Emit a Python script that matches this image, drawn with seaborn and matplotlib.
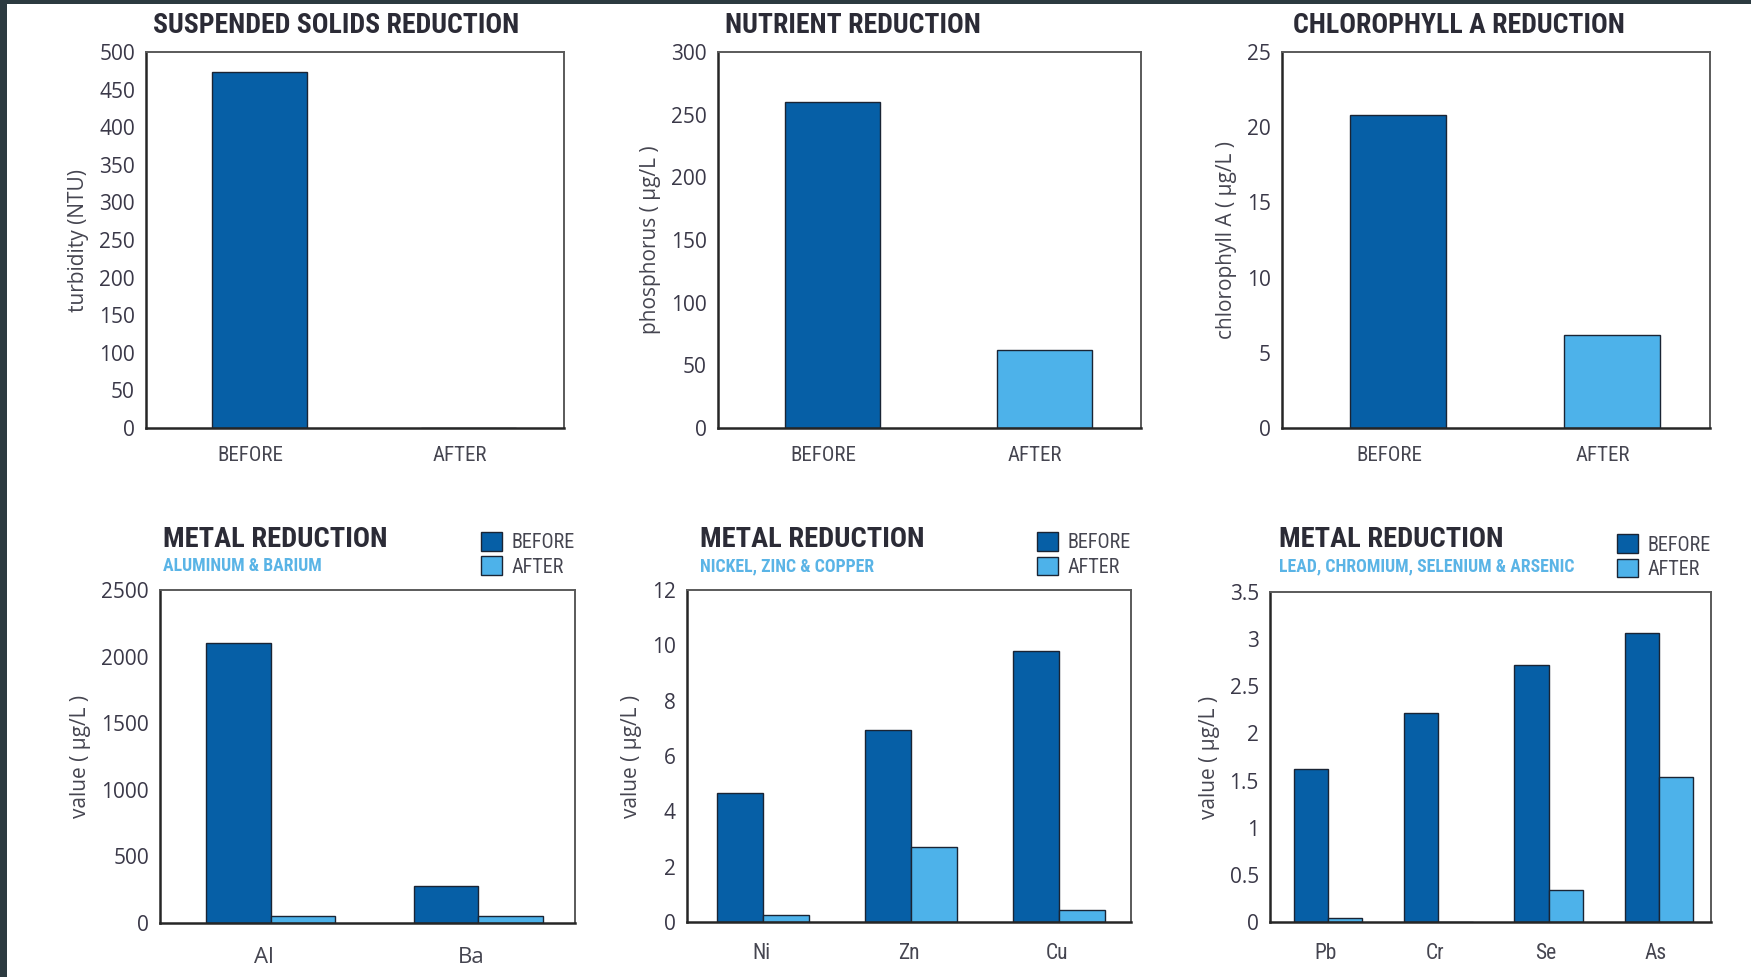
import numpy as np
import pandas as pd
import matplotlib
matplotlib.use("Agg")
import matplotlib.pyplot as plt
from matplotlib import font_manager as fm
from matplotlib.patches import Rectangle
from matplotlib.transforms import ScaledTranslation
import seaborn as sns

# ---- data ----
phases = ["BEFORE", "AFTER"]

turbidity = [473, 0]
phosphorus = [260, 62]
chlorophyll = [20.8, 6.2]

al_ba = ["Al", "Ba"]
al_ba_before = [2100, 280]
al_ba_after = [55, 55]

ni_zn_cu = ["Ni", "Zn", "Cu"]
ni_zn_cu_before = [4.65, 6.95, 9.8]
ni_zn_cu_after = [0.27, 2.72, 0.42]

pb_cr_se_as = ["Pb", "Cr", "Se", "As"]
pb_cr_se_as_before = [1.62, 2.22, 2.73, 3.06]
pb_cr_se_as_after = [0.04, 0.0, 0.34, 1.54]

DARK = "#065fa6"
LIGHT = "#4db2ea"
EDGE = "#1a2434"
INK = "#2b2b36"
GREY = "#454550"
SUB = "#5ab4e6"

sns.set_style("white")
plt.rcParams["font.family"] = ["Open Sans", "DejaVu Sans"]


def find_condensed(bold):
    wanted = ["Roboto Condensed", "Open Sans Condensed", "Liberation Sans Narrow",
              "Noto Sans Condensed", "DejaVu Sans Condensed"]
    fonts = fm.fontManager.ttflist

    def weight(f):
        return f.weight if isinstance(f.weight, int) else fm.weight_dict.get(f.weight, 400)

    for name in wanted:
        for f in fonts:
            if f.name == name and f.style == "normal" and (weight(f) >= 600) == bold:
                return f.fname
    for f in fonts:
        if "condensed" in str(f.stretch) and f.style == "normal" and (weight(f) >= 600) == bold:
            return f.fname
    return None


bold_file = find_condensed(True)
reg_file = find_condensed(False) or bold_file


def cond(size, bold=True):
    fname = bold_file if bold else reg_file
    if fname:
        return fm.FontProperties(fname=fname, size=size)
    return fm.FontProperties(family="DejaVu Sans", weight="bold" if bold else "normal", size=size * 0.8)


W, H = 1751, 977
fig = plt.figure(figsize=(W / 100, H / 100), dpi=100, facecolor="#2c3a40")
fig.patches.append(Rectangle((7 / W, 0), 1, 1 - 3.5 / H, transform=fig.transFigure,
                             facecolor="white", edgecolor="none", zorder=-10))


def px_axes(left, right, top, bottom):
    return fig.add_axes([left / W, 1 - bottom / H, (right - left) / W, (bottom - top) / H])


def nudge_bars(ax, px):
    # the original chart draws its bars a little right of the category centre
    off = ScaledTranslation(px / 100, 0, fig.dpi_scale_trans)
    for p in ax.patches:
        p.set_transform(ax.transData + off)


def style_axes(ax, n, ylim, step, ylabel, xfont, xpad):
    ax.set_xlim(-0.5, n - 0.5)
    ax.set_ylim(*ylim)
    ax.set_yticks(np.arange(ylim[0], ylim[1] + step / 2, step))
    ax.set_xticks(np.arange(-0.5, n, 1.0), minor=True)
    ax.tick_params(axis="x", which="major", length=0, pad=xpad, colors=GREY)
    ax.tick_params(axis="x", which="minor", length=7, width=1.6, direction="out", color="#333")
    ax.tick_params(axis="y", length=5, width=1.2, direction="out", color="#333",
                   labelsize=15, labelcolor="#3a3848", pad=3)
    for lab in ax.get_xticklabels():
        lab.set_fontproperties(xfont)
        lab.set_color(GREY)
    ax.set_xlabel("")
    ax.set_ylabel(ylabel, fontsize=15, color=GREY, labelpad=7)
    for side in ["left", "bottom"]:
        ax.spines[side].set_color("#262626")
        ax.spines[side].set_linewidth(1.8)
    for side in ["top", "right"]:
        ax.spines[side].set_color("#5a5a5a")
        ax.spines[side].set_linewidth(1.4)
        ax.spines[side].set_visible(True)


# ---- top row: single bar charts ----
top_panels = [
    ("SUSPENDED SOLIDS REDUCTION", turbidity, (0, 500), 50, "turbidity (NTU)",
     (146, 564, 52, 428), 153),
    ("NUTRIENT REDUCTION", phosphorus, (0, 300), 50, "phosphorus ( µg/L )",
     (718, 1141, 52, 428), 725),
    ("CHLOROPHYLL A REDUCTION", chlorophyll, (0, 25), 5, "chlorophyll A ( µg/L )",
     (1282, 1710, 52, 428), 1293),
]

for title, vals, ylim, step, ylabel, box, tx in top_panels:
    ax = px_axes(*box)
    df = pd.DataFrame({"phase": phases, "value": vals})
    sns.barplot(data=df, x="phase", y="value", hue="phase", palette=[DARK, LIGHT],
                saturation=1, width=0.45, edgecolor=EDGE, linewidth=1.0, legend=False, ax=ax)
    nudge_bars(ax, 9)
    style_axes(ax, 2, ylim, step, ylabel, cond(15, bold=False), 13)
    fig.text(tx / W, 1 - 33 / H, title, fontproperties=cond(20), color=INK, va="baseline")

# ---- bottom row: grouped metal charts ----
bottom_panels = [
    ("ALUMINUM & BARIUM", al_ba, al_ba_before, al_ba_after, (0, 2500), 500,
     (160, 575, 590, 923), 163, fm.FontProperties(family="Open Sans", size=16), 17, 7),
    ("NICKEL, ZINC & COPPER", ni_zn_cu, ni_zn_cu_before, ni_zn_cu_after, (0, 12), 2,
     (687, 1131, 590, 922), 700, cond(15.5, bold=False), 15, 2),
    ("LEAD, CHROMIUM, SELENIUM & ARSENIC", pb_cr_se_as, pb_cr_se_as_before, pb_cr_se_as_after,
     (0, 3.5), 0.5, (1270, 1711, 592, 922), 1279, cond(15.5, bold=False), 15, 3),
]

for subtitle, cats, before, after, ylim, step, box, tx, xfont, xpad, shift in bottom_panels:
    ax = px_axes(*box)
    df = pd.DataFrame({
        "element": cats * 2,
        "phase": ["BEFORE"] * len(cats) + ["AFTER"] * len(cats),
        "value": before + after,
    })
    sns.barplot(data=df, x="element", y="value", hue="phase", hue_order=phases,
                palette=[DARK, LIGHT], saturation=1, width=0.62, edgecolor=EDGE,
                linewidth=1.0, ax=ax)
    nudge_bars(ax, shift)
    style_axes(ax, len(cats), ylim, step, "value ( µg/L )", xfont, xpad)
    ax.yaxis.set_major_formatter(matplotlib.ticker.FuncFormatter(lambda v, p: f"{v:g}"))
    handles, labels = ax.get_legend_handles_labels()
    ax.legend(handles, labels, loc="lower right", bbox_to_anchor=(1.0, 1.04),
              frameon=False, prop=cond(14.5, bold=False), labelcolor=GREY,
              handlelength=1.05, handleheight=1.05, handletextpad=0.5,
              labelspacing=0.2, borderpad=0, borderaxespad=0)
    fig.text(tx / W, 1 - 547 / H, "METAL REDUCTION", fontproperties=cond(20.5), color=INK,
             va="baseline")
    fig.text(tx / W, 1 - 571 / H, subtitle, fontproperties=cond(12.8), color=SUB,
             va="baseline")

fig.savefig("out.png", dpi=100, facecolor=fig.get_facecolor())
plt.close()
